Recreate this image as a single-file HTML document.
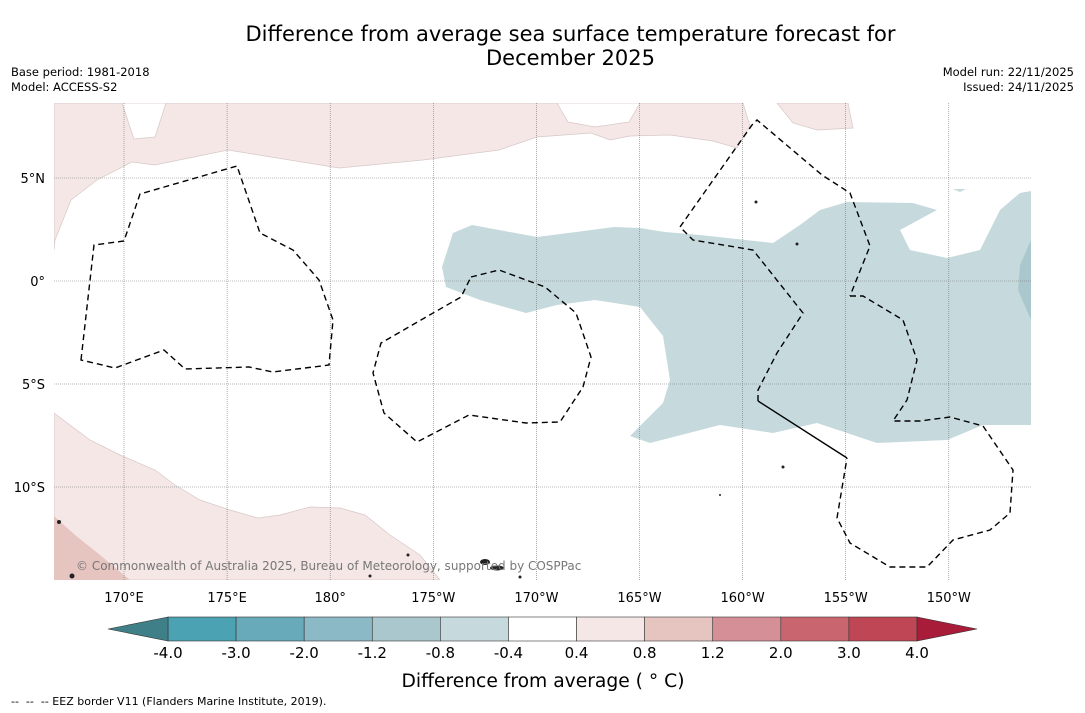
<!DOCTYPE html>
<html><head><meta charset="utf-8"><style>
body{margin:0;width:1085px;height:713px;background:#fff;font-family:"DejaVu Sans","Liberation Sans",sans-serif;overflow:hidden;position:relative}
.t{position:absolute;white-space:nowrap}
</style></head><body>
<div class="t" style="left:0;width:1141px;text-align:center;top:22px;font-size:21px;line-height:24px">Difference from average sea surface temperature forecast for<br>December 2025</div>
<div class="t" style="left:11px;top:65px;font-size:11.5px;line-height:15px">Base period: 1981-2018<br>Model: ACCESS-S2</div>
<div class="t" style="right:11px;top:65px;font-size:11.5px;line-height:15px;text-align:right">Model run: 22/11/2025<br>Issued: 24/11/2025</div>
<div class="t" style="left:11px;top:695px;font-size:11px">--&nbsp; --&nbsp; -- EEZ border V11 (Flanders Marine Institute, 2019).</div>
<svg id="s" width="1085" height="713" style="position:absolute;left:0;top:0" xmlns="http://www.w3.org/2000/svg">
<defs><clipPath id="mc"><rect x="54" y="103" width="977" height="477"/></clipPath></defs>
<g clip-path="url(#mc)">
<polygon fill="#f4e7e6" stroke="#d8c8c8" stroke-width="0.7" points="54,103 743,103 750,126 737,148 713,141 670,135 630,136 610,140 591,133 537,137 499,150 423,160 339,168 228,150 155,165 132,162 97,180 71,200 55,240 54,250"/>
<polygon fill="#fff" stroke="#d8c8c8" stroke-width="0.7" points="122,103 134,139 155,137 166,103"/>
<polygon fill="#fff" stroke="#d8c8c8" stroke-width="0.7" points="557,103 568,122 595,127 629,122 640,103"/>
<polygon fill="#f4e7e6" stroke="#d8c8c8" stroke-width="0.7" points="777,103 793,123 817,130 853,128 848,103"/>
<polygon fill="#f4e7e6" stroke="#d8c8c8" stroke-width="0.7" points="54,413 90,440 120,455 155,470 175,485 200,500 230,510 258,518 280,515 310,507 340,508 365,515 390,535 420,555 440,580 54,580"/>
<polygon fill="#e6c5c1" points="54,516 75,535 100,555 130,580 54,580"/>
<polygon fill="#c6dadd" points="442,267 453,233 472,225 537,237 576,232 614,227 640,228 665,232 700,235 773,243 800,225 820,210 847,202 913,203 937,210 900,230 910,250 947,258 980,250 1000,210 1020,193 1031,191 1031,425 983,425 947,440 877,443 817,423 773,433 720,425 650,443 630,436 663,403 670,380 663,336 640,307 595,300 557,305 526,313 480,300 446,287"/>
<polygon fill="#c6dadd" points="953,189 966,189 960,192"/>
<polygon fill="#aac7cd" points="1031,240 1020,265 1018,290 1031,320"/>
<g id="grid" stroke="#777" stroke-width="0.6" stroke-dasharray="1,1" fill="none"></g>
<g fill="none" stroke="#000" stroke-width="1.4" stroke-dasharray="6,4">
<polygon points="81,360 94,245 124,241 140,194 237,166 260,233 293,250 319,280 333,320 329,365 273,372 249,367 185,369 164,350 115,368"/>
<polygon points="471,277 499,270 545,287 576,313 591,357 583,387 560,422 526,423 469,415 417,442 384,413 373,373 381,343 461,297"/>
<polyline points="758,401 758,390 777,353 803,313 753,250 693,240 680,227 752,125 757,120 822,175 850,193 870,246 850,296"/>
<polyline points="850,296 863,296 903,320 917,360 907,400 893,421 920,421 950,417 983,426 1013,470 1010,513 990,530 953,540 927,567 890,567 850,543 837,518 847,458"/>
</g>
<line x1="847" y1="458" x2="758" y2="401" stroke="#000" stroke-width="1.4"/>
<g fill="#222">
<circle cx="59" cy="522" r="2"/><circle cx="72" cy="576" r="2.5"/><ellipse cx="497" cy="568" rx="7" ry="2.5"/><ellipse cx="485" cy="562" rx="5" ry="3"/><circle cx="520" cy="577" r="1.5"/><circle cx="756" cy="202" r="1.5"/><circle cx="797" cy="244" r="1.5"/><circle cx="783" cy="467" r="1.5"/><circle cx="720" cy="495" r="1"/><circle cx="408" cy="555" r="1.5"/><circle cx="370" cy="576" r="1.5"/>
</g>
</g>
<text x="76" y="570" font-size="12" fill="#777" font-family="DejaVu Sans,sans-serif">© Commonwealth of Australia 2025, Bureau of Meteorology, supported by COSPPac</text>
<g id="axes" font-size="13" font-family="DejaVu Sans,sans-serif"></g>
<g id="cbar"></g>
<text x="543" y="687" text-anchor="middle" font-size="18.7" font-family="DejaVu Sans,sans-serif">Difference from average ( ° C)</text>
</svg>
<script>
const lonTicks=[170,175,180,-175,-170,-165,-160,-155,-150];
const latTicks=[5,0,-5,-10];
const cbBounds=[-4.0,-3.0,-2.0,-1.2,-0.8,-0.4,0.4,0.8,1.2,2.0,3.0,4.0];
const cbColors=["#4aa2b2","#68aab9","#8bb9c5","#aac7cd","#c6dadd","#ffffff","#f4e7e6","#e6c5c1","#d58f96","#c9656f","#bf4655"];
const cbUnder="#3f7f87", cbOver="#a81c3a";
const NS="http://www.w3.org/2000/svg";
function lonX(l){let e=l<0?l+360:l;return 124+(e-170)*20.62;}
function latY(v){return 281-v*20.6;}
function mk(t,a,p){const e=document.createElementNS(NS,t);for(const k in a)e.setAttribute(k,a[k]);p.appendChild(e);return e;}
const grid=document.getElementById('grid'),axes=document.getElementById('axes');
lonTicks.forEach(l=>{const x=lonX(l);
 const g=mk('line',{x1:x,x2:x,y1:103,y2:580},grid);
 
 
 const t=mk('text',{x:x,y:602,'text-anchor':'middle'},axes);
 
 
 t.textContent=l===180?'180°':(l>0?l+'°E':(-l)+'°W');});
latTicks.forEach(v=>{const y=latY(v);
 const g=mk('line',{x1:54,x2:1031,y1:y,y2:y},grid);
 
 
 const t=mk('text',{x:45,y:y+5,'text-anchor':'end'},axes);
 
 
 t.textContent=v===0?'0°':(v>0?v+'°N':(-v)+'°S');});
const cb=document.getElementById('cbar');
const x0=168,x1=917,y0=617,h=24,n=cbColors.length,w=(x1-x0)/n;
cbColors.forEach((c,i)=>{const r=mk('rect',{x:x0+i*w,y:y0,width:w,height:h,fill:c,stroke:'#333','stroke-width':0.6},cb);
 
 });
const u=mk('polygon',{points:`${x0},${y0} 108,${y0+h/2} ${x0},${y0+h}`,fill:cbUnder,stroke:'#333','stroke-width':0.6},cb);


const o=mk('polygon',{points:`${x1},${y0} 977,${y0+h/2} ${x1},${y0+h}`,fill:cbOver,stroke:'#333','stroke-width':0.6},cb);


cbBounds.forEach((b,i)=>{const t=mk('text',{x:x0+i*w,y:658,'text-anchor':'middle','font-size':15,'font-family':'DejaVu Sans,sans-serif'},cb);
 
 
 t.textContent=b.toFixed(1);});
</script>
</body></html>
